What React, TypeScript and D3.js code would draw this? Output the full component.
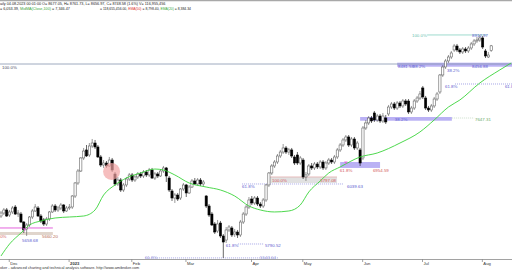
import React, { useEffect } from "react";
import * as d3 from "d3";

const WIDTH = 512;
const HEIGHT = 270;

// ---- daily OHLC (index 0 = late Nov 2022, last = 04.08.2023) ----
const opens = [
  6177, 6222, 6268, 6192, 6238, 6313, 6207, 6207, 6086, 5981,
  6041, 6162, 6253, 6298, 6177, 6117, 6056, 6132, 6238, 6328,
  6268, 6298, 6343, 6253, 6298, 6313, 6479, 6676, 6857, 7054,
  7175, 7099, 7235, 7280, 7220, 7069, 6948, 6978, 6933, 7023,
  6812, 6661, 6721, 6570, 6646, 6736, 6797, 6721, 6767, 6812,
  6782, 6842, 6797, 6872, 6751, 6812, 6782, 6857, 6903, 6751,
  6555, 6449, 6494, 6449, 6585, 6646, 6525, 6615, 6706, 6661,
  6721, 6661, 6479, 6328, 6207, 6056, 5950, 6071, 5875, 5814,
  5966, 5996, 5905, 5935, 5890, 6086, 6207, 6313, 6434, 6374,
  6449, 6358, 6328, 6419, 6646, 6827, 6933, 6993, 7084, 7144,
  7205, 7144, 7175, 7069, 7099, 6978, 7023, 6767, 6812, 6933,
  6903, 6963, 6918, 6993, 6903, 6978, 7023, 6993, 7069, 7175,
  7250, 7326, 7371, 7250, 7341, 7205, 7175, 7054, 7507, 7583,
  7658, 7734, 7628, 7688, 7613, 7658, 7719, 7824, 7870, 7809,
  7885, 7840, 7915, 7915, 7749, 7809, 7915, 7960, 8112, 7960,
  7809, 7779, 7840, 7945, 8051, 8308, 8429, 8520, 8580, 8686,
  8746, 8686, 8656, 8701, 8671, 8716, 8777, 8822, 8837, 8867,
  8671, 8580, 8677.05,
];
const highs = [
  6253, 6298, 6298, 6268, 6328, 6343, 6268, 6238, 6102, 6071,
  6177, 6283, 6358, 6328, 6207, 6147, 6162, 6253, 6358, 6358,
  6328, 6374, 6358, 6328, 6358, 6494, 6691, 6887, 7069, 7205,
  7250, 7280, 7341, 7326, 7250, 7099, 7023, 7008, 7069, 7054,
  6842, 6767, 6751, 6676, 6767, 6827, 6827, 6797, 6842, 6842,
  6872, 6872, 6903, 6903, 6842, 6842, 6887, 6933, 6918, 6782,
  6585, 6525, 6525, 6600, 6676, 6661, 6646, 6736, 6751, 6751,
  6751, 6721, 6494, 6358, 6238, 6086, 6117, 6102, 5905, 6011,
  6041, 6026, 5981, 5966, 6117, 6238, 6343, 6464, 6479, 6479,
  6479, 6389, 6449, 6661, 6842, 6963, 7023, 7114, 7175, 7265,
  7235, 7205, 7205, 7099, 7144, 7084, 7054, 6842, 6963, 6978,
  6993, 6993, 7023, 7023, 7008, 7054, 7054, 7099, 7205, 7280,
  7356, 7401, 7401, 7371, 7371, 7311, 7205, 7537, 7628, 7688,
  7688, 7764, 7719, 7719, 7734, 7704, 7855, 7900, 7900, 7915,
  7915, 7945, 7945, 7945, 7840, 7945, 7991, 8066, 8142, 7991,
  7840, 7870, 7976, 8051, 8323, 8459, 8550, 8610, 8671, 8777,
  8777, 8716, 8731, 8731, 8746, 8807, 8852, 8882, 8912.97, 8897,
  8701, 8656, 8761.73,
];
const lows = [
  6147, 6192, 6162, 6162, 6207, 6192, 6162, 6071, 5920, 5875,
  6011, 6132, 6238, 6162, 6071, 6026, 6026, 6102, 6222, 6238,
  6238, 6268, 6222, 6238, 6268, 6283, 6449, 6646, 6842, 7023,
  7069, 7069, 7205, 7190, 7054, 6918, 6903, 6903, 6918, 6842,
  6630, 6630, 6540, 6540, 6615, 6706, 6691, 6691, 6736, 6751,
  6751, 6767, 6767, 6736, 6721, 6751, 6767, 6827, 6691, 6540,
  6404, 6374, 6404, 6419, 6555, 6464, 6510, 6600, 6646, 6630,
  6630, 6630, 6298, 6162, 6026, 5905, 5920, 5845, 5543.64, 5769,
  5935, 5860, 5860, 5845, 5860, 6056, 6177, 6283, 6343, 6343,
  6328, 6298, 6298, 6389, 6615, 6797, 6903, 6963, 7054, 7114,
  7114, 7099, 7054, 6948, 6948, 6948, 6736, 6706, 6782, 6872,
  6872, 6887, 6887, 6872, 6872, 6948, 6963, 6963, 7039, 7144,
  7220, 7295, 7220, 7220, 7175, 7175, 6933, 7023, 7477, 7552,
  7583, 7598, 7598, 7583, 7583, 7567, 7688, 7794, 7779, 7779,
  7809, 7809, 7840, 7719, 7719, 7779, 7885, 7930, 7945, 7779,
  7749, 7749, 7809, 7915, 8021, 8278, 8399, 8489, 8550, 8656,
  8656, 8625, 8625, 8641, 8641, 8686, 8746, 8792, 8807, 8701,
  8565, 8565, 8656.97,
];
const closes = [
  6222, 6268, 6177, 6238, 6298, 6207, 6222, 6086, 5966, 6041,
  6162, 6253, 6313, 6177, 6102, 6056, 6132, 6238, 6328, 6268,
  6298, 6343, 6253, 6298, 6313, 6479, 6676, 6857, 7054, 7159,
  7084, 7235, 7280, 7220, 7069, 6948, 6978, 6933, 7023, 6872,
  6661, 6721, 6570, 6646, 6736, 6797, 6721, 6767, 6812, 6782,
  6842, 6797, 6872, 6751, 6812, 6782, 6857, 6903, 6782, 6570,
  6449, 6494, 6434, 6585, 6646, 6525, 6615, 6706, 6661, 6721,
  6661, 6691, 6328, 6192, 6041, 5935, 6056, 5875, 5784, 5966,
  6011, 5890, 5935, 5890, 6086, 6207, 6313, 6419, 6374, 6449,
  6358, 6328, 6419, 6646, 6827, 6933, 6993, 7084, 7144, 7205,
  7144, 7175, 7084, 6978, 6978, 7054, 6767, 6797, 6933, 6903,
  6963, 6918, 6993, 6903, 6978, 7023, 6993, 7069, 7175, 7250,
  7326, 7371, 7250, 7341, 7205, 7280, 6978, 7507, 7583, 7658,
  7613, 7628, 7688, 7613, 7688, 7598, 7824, 7870, 7809, 7885,
  7840, 7915, 7870, 7749, 7809, 7915, 7960, 8021, 7976, 7809,
  7779, 7840, 7945, 8021, 8308, 8429, 8520, 8580, 8641, 8746,
  8686, 8656, 8701, 8671, 8716, 8777, 8822, 8837, 8867, 8731,
  8595, 8610, 8748.58,
];

// ---- month axis ----
const monthLabels = ["Dec", "2023", "Feb", "Mar", "Apr", "May", "Jun", "Jul", "Aug"];
const monthStartIdx = [3, 24, 46, 65, 88, 106, 127, 148, 169];

// ---- moving average (green) ----
const maIdx = [0, 3, 7, 10, 14, 19, 24, 29, 33, 36, 40, 44, 49, 54, 57, 61, 66, 72, 77, 82, 87, 91, 96, 101, 105, 108, 112, 115, 119, 126, 132, 140, 147, 152, 157, 161, 168, 175, 179];
const maVal = [5573, 5754, 5920, 6041, 6102, 6147, 6162, 6177, 6268, 6494, 6646, 6751, 6827, 6887, 6872, 6797, 6676, 6615, 6570, 6479, 6328, 6268, 6238, 6253, 6343, 6540, 6706, 6827, 6918, 7069, 7129, 7280, 7447, 7628, 7824, 7930, 8187, 8384, 8489];

// ---- fibonacci style levels ----
const levelFrom = [149.5, -1, 159.3, 158.2, 84.6, 94.4, 83.2, 50.5, -1];
const levelTo = [170.5, 180, 180, 166, 120, 117.9, 92, 97.2, 18.2];
const levelPrice = [8912.97, 8474, 8172, 7658, 6661, 6767, 5754, 5543.64, 5996];
const levelKind = ["teal", "steel", "blueDot", "greenDot", "blueDot", "red", "blueDot", "blueDot", "magenta"];

const bandFrom = [139, 126, 119, 94.4, -1];
const bandTo = [180, 158.2, 133, 117.9, 18.2];
const bandTop = [8494, 7673, 6993, 6767, 5935];
const bandBottom = [8433, 7617, 6903, 6676, 5890];
const bandKind = ["purple", "purple", "purple", "gray", "beige"];

const labelIdx = [144.2, 165.3, 0.35, 139.3, 144.5, 156.5, 165.3, 155.8, 176.8, 138.2, 166.3, 118.9, 130.5, 121.4, 84.6, 95.1, 112, 78.9, 92.6, 50.5, 90.9, -0.3, 14.4, 7.4];
const labelPrice = [8875, 8875, 8399, 8414, 8414, 8353, 8414, 8112, 8112, 7613, 7613, 6842, 6842, 6600, 6600, 6691, 6691, 5709, 5709, 5527, 5527, 5845, 5845, 5784];
const labelText = ["100.0%", "8912.97", "100.0%", "8481.58", "38.2%", "38.2%", "8456.88", "61.8%", "61.8", "38.2%", "7647.31", "61.8%", "6954.59", "6039.63", "61.8%", "100.0%", "5797.08", "61.8%", "5790.52", "61.8%", "5543.64", "0%", "5660.20", "5658.68"];
const labelKind = ["teal", "blue", "dark", "blue", "blue", "blue", "blue", "blue", "blue", "blue", "green", "red", "red", "blue", "blue", "red", "red", "blue", "blue", "faint", "faint", "red", "brown", "blue"];

const markerIdx = [8.3, 121];
const markerPrice = [5966, 6978];
const highlightIdx = 38.8;
const highlightPrice = 6850;

// ---- header / footer text ----
const header1 = "aily 04.08.2023 00:01:00 O= 8677.05, H= 8761.73, L= 8656.97, C= 8748.58 (1.6%) V= 116,955,456";
const header2a = ["= 6,053.39, ", "MidMA(Close,100)", " = 7,346.47"];
const header2b = ["= 118,655,456.00, ", "EMA(50)", " = 8,798.40, ", "EMA(20)", " = 8,384.34"];
const footer = "oker - advanced charting and technical analysis software. http://www.amibroker.com";

// ---- styles ----
const FONT = "'Liberation Sans', Arial, sans-serif";
const header2aColor = ["#222", "#3aa83a", "#222"];
const header2bColor = ["#222", "#e03030", "#222", "#3aa83a", "#222"];
const lineStyle: Record<string, { stroke: string; dash?: string; w: number }> = {
  teal: { stroke: "#86d2c2", w: 0.8 },
  steel: { stroke: "#8596ae", w: 0.8 },
  blueDot: { stroke: "#6b6bd6", dash: "1,1", w: 0.6 },
  greenDot: { stroke: "#a9c9a9", dash: "1,1", w: 0.6 },
  red: { stroke: "#e09a9a", w: 0.6 },
  magenta: { stroke: "#e050d8", w: 0.9 },
};
const bandFill: Record<string, string> = { purple: "#b3a8f3", gray: "#dedede", beige: "#ddd0c6" };
const labelColor: Record<string, string> = {
  teal: "#6cbfae", blue: "#5c5cd0", dark: "#4a4f60", red: "#d45a5a",
  green: "#6aaa6a", faint: "#9a9ae0", brown: "#b86a50",
};

const xScale = d3.scaleLinear().domain([0, 179]).range([1, 1 + 179 * 2.85]);
const yScale = d3.scaleLinear().domain([5500, 9000]).range([260.8, 29.2]);

export default function App() {
  useEffect(() => {
    document.body.style.margin = "0";
  }, []);

  const bw = 2.2;
  const idx = d3.range(closes.length);
  const ma = d3
    .line<number>()
    .x((k) => xScale(maIdx[k]))
    .y((k) => yScale(maVal[k]))
    .curve(d3.curveMonotoneX)(d3.range(maIdx.length));

  return (
    <svg
      width={WIDTH}
      height={HEIGHT}
      viewBox={`0 0 ${WIDTH} ${HEIGHT}`}
      style={{ position: "absolute", left: 0, top: 0, background: "#fff", display: "block" }}
      fontFamily={FONT}
    >
      <rect x={0} y={0} width={WIDTH} height={HEIGHT} fill="#fff" />
      <line x1={0} x2={WIDTH} y1={0.6} y2={0.6} stroke="#a8a8a8" strokeWidth={1.4} />

      {/* bands */}
      {bandFrom.map((_, k) => (
        <rect
          key={"b" + k}
          x={xScale(bandFrom[k])}
          y={yScale(bandTop[k])}
          width={xScale(bandTo[k]) - xScale(bandFrom[k])}
          height={yScale(bandBottom[k]) - yScale(bandTop[k])}
          fill={bandFill[bandKind[k]]}
          opacity={0.9}
        />
      ))}

      {/* level lines */}
      {levelFrom.map((_, k) => {
        const s = lineStyle[levelKind[k]];
        const y = yScale(levelPrice[k]);
        return (
          <line
            key={"l" + k}
            x1={xScale(levelFrom[k])}
            x2={xScale(levelTo[k])}
            y1={y}
            y2={y}
            stroke={s.stroke}
            strokeWidth={s.w}
            strokeDasharray={s.dash}
          />
        );
      })}

      {/* candles */}
      {idx.map((i) => {
        const o = opens[i], c = closes[i];
        const up = c >= o;
        const x = xScale(i);
        const yT = yScale(Math.max(o, c));
        const yB = yScale(Math.min(o, c));
        return (
          <g key={"c" + i}>
            <line x1={x} x2={x} y1={yScale(highs[i])} y2={yScale(lows[i])} stroke={up ? "#555" : "#000"} strokeWidth={0.6} />
            <rect
              x={x - bw / 2}
              y={yT}
              width={bw}
              height={Math.max(0.6, yB - yT)}
              fill={up ? "#fff" : "#000"}
              stroke={up ? "#555" : "#000"}
              strokeWidth={0.55}
            />
          </g>
        );
      })}

      {/* moving average */}
      <path d={ma ?? ""} fill="none" stroke="#3ad43a" strokeWidth={0.9} />

      {/* highlight circle */}
      <ellipse cx={xScale(highlightIdx)} cy={yScale(highlightPrice)} rx={8.5} ry={8.5} fill="#f2a3a3" opacity={0.7} />

      {/* markers */}
      {markerIdx.map((m, k) => {
        const x = xScale(m), y = yScale(markerPrice[k]);
        return <path key={"m" + k} d={`M${x - 1.8},${y - 1.6}L${x + 1.8},${y - 1.6}L${x},${y + 1.6}Z`} fill="#e060d8" opacity={0.85} />;
      })}

      {/* labels */}
      {labelIdx.map((li, k) => (
        <text key={"t" + k} x={xScale(li)} y={yScale(labelPrice[k])} fontSize={4.4} fill={labelColor[labelKind[k]]}>
          {labelText[k]}
        </text>
      ))}

      {/* header */}
      <text x={0} y={5} fontSize={3.75} fill="#222">
        {header1}
      </text>
      <text x={0} y={10.2} fontSize={3.75}>
        {header2a.map((s, k) => (
          <tspan key={k} fill={header2aColor[k]}>{s}</tspan>
        ))}
      </text>
      <text x={100} y={10.2} fontSize={3.4}>
        {header2b.map((s, k) => (
          <tspan key={k} fill={header2bColor[k]}>{s}</tspan>
        ))}
      </text>

      {/* x axis */}
      <line x1={0} x2={WIDTH} y1={259.5} y2={259.5} stroke="#8a8a8a" strokeWidth={0.8} />
      {monthStartIdx.map((mi, k) => {
        const x = xScale(mi) - 0.3;
        return (
          <g key={"a" + k}>
            <line x1={x} x2={x} y1={259.5} y2={262} stroke="#666" strokeWidth={0.6} />
            <text x={x + 1} y={264.6} fontSize={4.2} fill="#333" fontWeight={/^\d{4}$/.test(monthLabels[k]) ? "bold" : "normal"}>
              {monthLabels[k]}
            </text>
          </g>
        );
      })}

      {/* footer */}
      <text x={0} y={269.2} fontSize={3.75} fill="#333">
        {footer}
      </text>
    </svg>
  );
}
